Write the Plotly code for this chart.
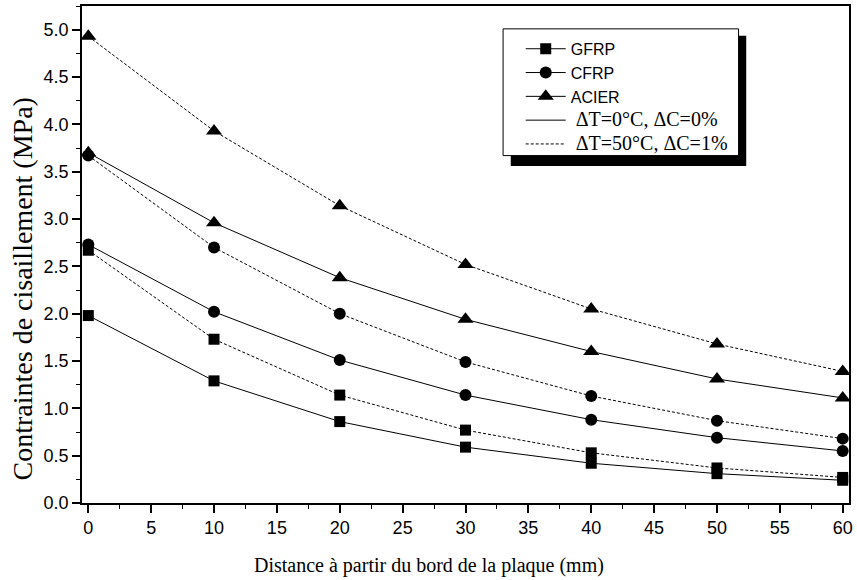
import plotly.graph_objects as go

# Distance from the plate edge (mm)
distance = [0, 10, 20, 30, 40, 50, 60]

# Shear stress (MPa), reference condition (dT=0°C, dC=0%)
gfrp_ref = [1.98, 1.29, 0.86, 0.59, 0.42, 0.31, 0.24]
cfrp_ref = [2.73, 2.02, 1.51, 1.14, 0.88, 0.69, 0.55]
acier_ref = [3.70, 2.96, 2.38, 1.94, 1.60, 1.31, 1.11]

# Shear stress (MPa), hygrothermal condition (dT=50°C, dC=1%)
gfrp_hyg = [2.67, 1.73, 1.14, 0.77, 0.53, 0.37, 0.27]
cfrp_hyg = [3.67, 2.70, 2.00, 1.49, 1.13, 0.87, 0.68]
acier_hyg = [4.93, 3.93, 3.14, 2.52, 2.05, 1.68, 1.39]

materials = ["GFRP", "CFRP", "ACIER"]
symbols = ["square", "circle", "triangle-up"]
sizes = [11, 12, 14]
ref_series = [gfrp_ref, cfrp_ref, acier_ref]
hyg_series = [gfrp_hyg, cfrp_hyg, acier_hyg]

x_ticks = list(range(0, 61, 5))
y_ticks = [0.0, 0.5, 1.0, 1.5, 2.0, 2.5, 3.0, 3.5, 4.0, 4.5, 5.0]

SERIF = "Liberation Serif, Times New Roman, serif"
SANS = "Liberation Sans, Arial, sans-serif"
DASH = "3px,2px"

fig = go.Figure()

for name, sym, sz, ref, hyg in zip(materials, symbols, sizes, ref_series, hyg_series):
    fig.add_trace(go.Scatter(
        x=distance, y=ref, mode="lines+markers", showlegend=False,
        line=dict(color="black", width=1),
        marker=dict(symbol=sym, size=sz, color="black"),
    ))
    fig.add_trace(go.Scatter(
        x=distance, y=hyg, mode="lines+markers", showlegend=False,
        line=dict(color="black", width=1, dash=DASH),
        marker=dict(symbol=sym, size=sz, color="black"),
    ))

# Legend entries
for name, sym, sz in zip(materials, symbols, sizes):
    fig.add_trace(go.Scatter(
        x=[None], y=[None], mode="lines+markers", name=name,
        line=dict(color="black", width=1),
        marker=dict(symbol=sym, size=sz, color="black"),
    ))
fig.add_trace(go.Scatter(
    x=[None], y=[None], mode="lines",
    name="<span style='font-family:Liberation Serif;font-size:20px'>\u00a0ΔT=0°C, ΔC=0%</span>",
    line=dict(color="black", width=1),
))
fig.add_trace(go.Scatter(
    x=[None], y=[None], mode="lines",
    name="<span style='font-family:Liberation Serif;font-size:20px'>\u00a0ΔT=50°C, ΔC=1%</span>",
    line=dict(color="black", width=1, dash=DASH),
))

axis_common = dict(
    showgrid=False, zeroline=False, showline=True, linecolor="black",
    linewidth=1.5, mirror=True, ticks="outside", ticklen=8, tickwidth=1.5,
    tickcolor="black", tickfont=dict(family=SANS, size=18, color="black"),
)

fig.update_xaxes(
    range=[-0.5, 60.5], tickvals=x_ticks, ticktext=[str(v) for v in x_ticks],
    minor=dict(ticks="outside", ticklen=4, tickwidth=1, tickcolor="black", dtick=2.5, tick0=0),
    **axis_common,
)
fig.update_yaxes(
    range=[0, 5.25], tickvals=y_ticks, ticktext=[f"{v:.1f}" for v in y_ticks],
    minor=dict(ticks="outside", ticklen=4, tickwidth=1, tickcolor="black", dtick=0.25, tick0=0),
    **axis_common,
)

# Legend frame with drop shadow
fig.add_shape(type="rect", xref="paper", yref="paper",
              x0=0.559, x1=0.866, y0=0.678, y1=0.940,
              fillcolor="black", line=dict(width=0), layer="above")
fig.add_shape(type="rect", xref="paper", yref="paper",
              x0=0.549, x1=0.856, y0=0.699, y1=0.954,
              fillcolor="white", line=dict(color="black", width=1), layer="above")

fig.add_annotation(
    text="Distance à partir du bord de la plaque (mm)", xref="paper", yref="paper",
    x=0.452, y=-0.125, xanchor="center", yanchor="middle", showarrow=False,
    font=dict(family=SERIF, size=20, color="black"),
)
fig.add_annotation(
    text="Contraintes de cisaillement (MPa)", xref="paper", yref="paper",
    x=-0.078, y=0.43, xanchor="center", yanchor="middle", showarrow=False,
    textangle=-90, font=dict(family=SERIF, size=28, color="black"),
)

fig.update_layout(
    width=857, height=580,
    margin=dict(l=82, r=4, t=5, b=77),
    plot_bgcolor="white", paper_bgcolor="white",
    legend=dict(
        x=0.572, y=0.948, xanchor="left", yanchor="top",
        bgcolor="rgba(0,0,0,0)", borderwidth=0,
        font=dict(family=SANS, size=16, color="black"),
        tracegroupgap=0, itemwidth=40,
    ),
)

fig.write_html("out.html")
